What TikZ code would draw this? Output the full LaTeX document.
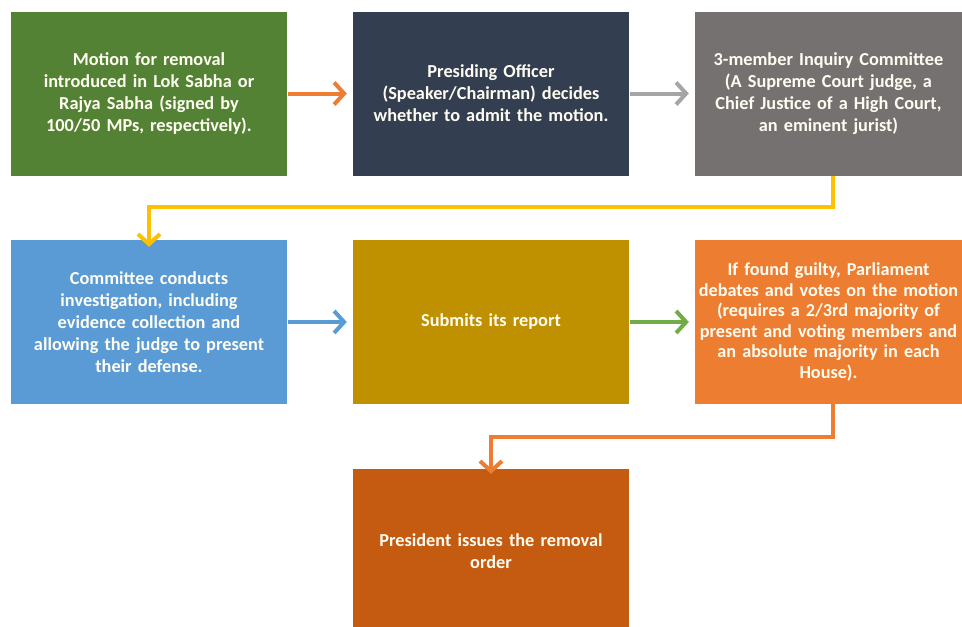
\documentclass[tikz,border=0pt]{standalone}
\usepackage{fontspec}
\setmainfont{Carlito}
\usetikzlibrary{arrows.meta}

\definecolor{cgreen}{HTML}{548235}
\definecolor{cnavy}{HTML}{333F50}
\definecolor{cgray}{HTML}{767171}
\definecolor{cblue}{HTML}{5B9BD5}
\definecolor{cmustard}{HTML}{BF9000}
\definecolor{corange}{HTML}{ED7D31}
\definecolor{cdeeporange}{HTML}{C55A11}
\definecolor{agray}{HTML}{A5A5A5}
\definecolor{ayellow}{HTML}{FFC000}
\definecolor{agreen}{HTML}{70AD47}
\definecolor{cwhite}{HTML}{FFFDF2}

\tikzset{
  stepbox/.style={rectangle, inner sep=0pt, minimum width=276pt, minimum height=164pt,
    text width=272pt, align=center, text=cwhite,
    font=\fontsize{18.3}{22}\selectfont\bfseries},
  flow/.style={line width=4pt, -{Straight Barb[length=10pt,width=22pt,line width=4pt]}},
}

\begin{document}
\begin{tikzpicture}[x=1pt,y=-1pt]
\useasboundingbox (0,0) rectangle (962,627);
\begin{scope}
\clip (0,0) rectangle (962,627);
\fill[white] (0,0) rectangle (962,627);

% first row
\node[stepbox, fill=cgreen] (motion) at (149,93.5)
  {Motion for removal\\introduced in Lok Sabha or\\Rajya Sabha (signed by\\100/50 MPs, respectively).};
\node[stepbox, fill=cnavy] (officer) at (491,93.5)
  {Presiding Officer\\(Speaker/Chairman) decides\\whether to admit the motion.};
\node[stepbox, fill=cgray, minimum width=267pt, text width=265pt] (inquiry) at (828.5,93.5)
  {3-member Inquiry Committee\\(A Supreme Court judge, a\\Chief Justice of a High Court,\\an eminent jurist)};

% second row
\node[stepbox, fill=cblue] (investigate) at (149,322)
  {Committee conducts\\investigation, including\\evidence collection and\\allowing the judge to present\\their defense.};
\node[stepbox, fill=cmustard] (report) at (491,322)
  {Submits its report\\[20pt]};
\node[stepbox, fill=corange, minimum width=267pt, text width=265pt,
      font=\fontsize{18.2}{20.5}\selectfont\bfseries] (vote) at (828.5,322)
  {If found guilty, Parliament\\debates and votes on the motion\\(requires a 2/3rd majority of\\present and voting members and\\an absolute majority in each\\House).};

% last step
\node[stepbox, fill=cdeeporange] (order) at (491,551)
  {President issues the removal\\order};

% connectors
\draw[flow, corange] (motion.east) ++(1,0) -- ([xshift=-6pt]officer.west);
\draw[flow, agray] (officer.east) ++(1,0) -- ([xshift=-6pt]inquiry.west);
\draw[flow, ayellow] ([xshift=4.5pt]inquiry.south) |- (149,207) -- ([yshift=-7pt]investigate.north);
\draw[flow, cblue] (investigate.east) ++(1,0) -- ([xshift=-6pt]report.west);
\draw[flow, agreen] (report.east) ++(1,0) -- ([xshift=-6pt]vote.west);
\draw[flow, corange] ([xshift=4.5pt]vote.south) |- (491,437) -- ([yshift=-5pt]order.north);
\end{scope}
\end{tikzpicture}
\end{document}
